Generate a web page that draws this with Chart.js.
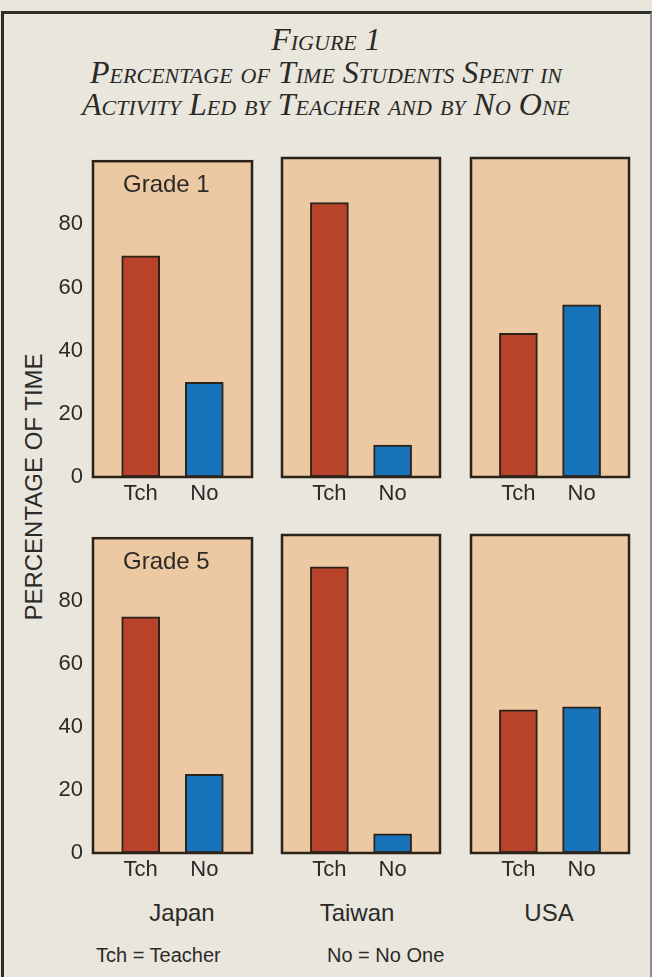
<!DOCTYPE html>
<html>
<head>
<meta charset="utf-8">
<script src="https://cdn.jsdelivr.net/npm/chart.js@4.4.1/dist/chart.umd.min.js"></script>
<style>
  html, body { margin: 0; padding: 0; background: #e9e6de; }
  body { width: 652px; height: 977px; position: relative; overflow: hidden;
         font-family: "Liberation Sans", Arial, sans-serif; color: #2b2a27; }
  #frame { position: absolute; left: 1px; top: 11px; width: 646px; height: 1000px;
           border-top: 3px solid #2f2e2a; border-left: 3px solid #2f2e2a; border-right: 2px solid #8c8a84; }
  #title { position: absolute; left: 0; top: 23px; width: 652px; text-align: center;
           font-family: "Liberation Serif", "Times New Roman", serif; font-style: italic;
           font-variant: small-caps; font-size: 32px; line-height: 32.5px; color: #2a2926; }
  .panel { position: absolute; }
  #ytitle { position: absolute; left: 34px; top: 487px; white-space: nowrap; font-size: 24px;
            transform: translate(-50%, -50%) rotate(-90deg); }
  .country { position: absolute; top: 913px; font-size: 24px; transform: translate(-50%, -50%); white-space: nowrap; }
  .note { position: absolute; top: 955px; font-size: 20px; transform: translateY(-50%); white-space: nowrap; }
</style>
</head>
<body>
<div id="frame"></div>
<div id="title">Figure 1<br>Percentage of Time Students Spent in<br>Activity Led by Teacher and by No One</div>
<div id="ytitle">PERCENTAGE OF TIME</div>
<div class="country" style="left:182px">Japan</div>
<div class="country" style="left:357px">Taiwan</div>
<div class="country" style="left:549px">USA</div>
<div class="note" style="left:96px">Tch = Teacher</div>
<div class="note" style="left:327px">No = No One</div>

<script>
// Share of class time, by who led the activity (percent)
const countries = ['Japan', 'Taiwan', 'USA'];
const leaders = ['Tch', 'No'];
const grades = ['Grade 1', 'Grade 5'];
const grade1Teacher = [70, 86, 45];
const grade1NoOne = [30, 10, 54];
const grade5Teacher = [75, 90, 45];
const grade5NoOne = [25, 6, 46];
const yTicks = [0, 20, 40, 60, 80];

const teacherByGrade = [grade1Teacher, grade5Teacher];
const noOneByGrade = [grade1NoOne, grade5NoOne];

// Page geometry of the six plot boxes
const colLeft = [93, 282, 471];
const colRight = [252, 440, 629];
const rowTop = [158, 535];
const rowBottom = [477, 853];
const TOP_PAD = 20;
const X_AXIS_H = 36;
const Y_AXIS_W = 53;

const RED = '#b8432a';
const BLUE = '#1774ba';
const PEACH = '#ecc9a2';
const INK = '#2b2219';
const TEXT = '#2b2a27';
const NARROW = '"Liberation Sans Narrow", "Liberation Sans", Arial, sans-serif';
const SANS = '"Liberation Sans", Arial, sans-serif';

// Fills the plot box, writes the grade tag and outlines the box
const panelPlugin = {
  id: 'panel',
  beforeDatasetsDraw(chart, args, opts) {
    const { ctx, chartArea: a } = chart;
    ctx.save();
    ctx.fillStyle = PEACH;
    ctx.fillRect(a.left, a.top, a.right - a.left, a.bottom - a.top);
    if (opts.label) {
      ctx.fillStyle = TEXT;
      ctx.font = '24px ' + SANS;
      ctx.textBaseline = 'middle';
      ctx.textAlign = 'left';
      ctx.fillText(opts.label, a.left + 30, a.top + 24);
    }
    ctx.restore();
  },
  afterDatasetsDraw(chart) {
    const { ctx, chartArea: a } = chart;
    ctx.save();
    ctx.strokeStyle = INK;
    ctx.lineWidth = 2.5;
    ctx.strokeRect(a.left, a.top, a.right - a.left, a.bottom - a.top);
    ctx.restore();
  }
};

function makePanel(r, c) {
  const first = c === 0;
  const left = first ? colLeft[c] - Y_AXIS_W : colLeft[c] - 4;
  const width = colRight[c] + 4 - left;
  const top = rowTop[r] - TOP_PAD;
  const height = TOP_PAD + (rowBottom[r] - rowTop[r]) + X_AXIS_H;

  const box = document.createElement('div');
  box.className = 'panel';
  box.style.left = left + 'px';
  box.style.top = top + 'px';
  box.style.width = width + 'px';
  box.style.height = height + 'px';
  const canvas = document.createElement('canvas');
  canvas.width = width;
  canvas.height = height;
  box.appendChild(canvas);
  document.body.appendChild(box);

  const values = [teacherByGrade[r][c], noOneByGrade[r][c]];

  new Chart(canvas, {
    type: 'bar',
    data: {
      datasets: [{
        label: grades[r] + ' ' + countries[c],
        data: values.map((v, i) => ({ x: i, y: v })),
        backgroundColor: [RED, BLUE],
        borderColor: INK,
        borderWidth: 2,
        borderSkipped: false,
        barThickness: 38
      }]
    },
    options: {
      responsive: false,
      animation: false,
      layout: { padding: { top: TOP_PAD, left: first ? 0 : 4, right: 4, bottom: 0 } },
      plugins: {
        legend: { display: false },
        tooltip: { enabled: false },
        panel: { label: first ? grades[r] : '' }
      },
      scales: {
        x: {
          type: 'linear',
          min: -0.75,
          max: 1.75,
          offset: false,
          grid: { display: false, drawTicks: false },
          border: { display: false },
          afterBuildTicks: s => { s.ticks = leaders.map((_, i) => ({ value: i })); },
          afterFit: s => { s.height = X_AXIS_H; },
          ticks: {
            callback: v => leaders[v],
            autoSkip: false,
            maxRotation: 0,
            padding: 4,
            color: TEXT,
            font: { family: NARROW, size: 22 }
          }
        },
        y: {
          min: 0,
          max: 100,
          grid: { display: false, drawTicks: false },
          border: { display: false },
          afterBuildTicks: s => { s.ticks = yTicks.map(v => ({ value: v })); },
          afterFit: s => { s.width = first ? Y_AXIS_W : 0; },
          ticks: {
            display: first,
            padding: 10,
            color: TEXT,
            font: { family: SANS, size: 22 }
          }
        }
      }
    },
    plugins: [panelPlugin]
  });
}

for (let r = 0; r < 2; r++) {
  for (let c = 0; c < 3; c++) makePanel(r, c);
}
</script>
</body>
</html>
